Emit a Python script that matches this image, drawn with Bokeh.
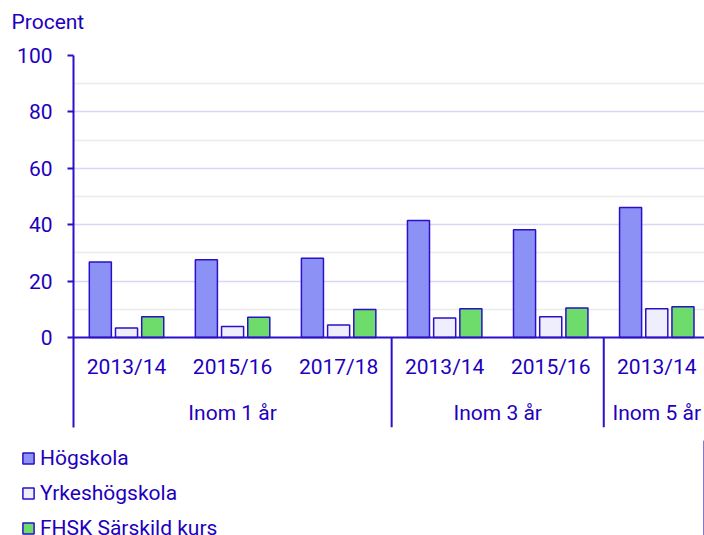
from bokeh.plotting import figure
from bokeh.layouts import column
from bokeh.models import Range1d, FixedTicker, Grid, Span, Label, Legend, LegendItem, ColumnDataSource
from bokeh.transform import dodge
from bokeh.core.properties import value
from bokeh.embed import file_html
from bokeh.resources import INLINE

# ---- data ----
groups = ["Inom 1 år", "Inom 3 år", "Inom 5 år"]
group_years = [["2013/14", "2015/16", "2017/18"], ["2013/14", "2015/16"], ["2013/14"]]
series_names = ["Högskola", "Yrkeshögskola", "FHSK Särskild kurs"]
hogskola = [26.8, 27.6, 28.1, 41.5, 38.2, 46.1]
yrkeshogskola = [3.4, 3.9, 4.4, 6.9, 7.4, 10.2]
fhsk = [7.4, 7.2, 9.9, 10.2, 10.5, 10.9]
y_ticks = [0, 20, 40, 60, 80, 100]
y_minor = [10, 30, 50, 70, 90]
unit_label = "Procent"

# ---- styling ----
TXT = "#1E00BE"
EDGE = "#2A10C8"
COLORS = ["#8C91F5", "#EEEEFD", "#6EDC6A"]
FONT = "Roboto"
FS = "21px"

years = [y for ys in group_years for y in ys]
xs = [i + 0.5 for i in range(len(years))]
counts = [len(ys) for ys in group_years]
bounds = []
acc = 0
centers = []
for c in counts:
    centers.append(acc + c / 2)
    acc += c
    bounds.append(acc)
sep_x = bounds[:-1]

# ---- header panel with unit label ----
p0 = figure(width=704, height=40, output_backend="svg", toolbar_location=None, title=None,
            x_range=Range1d(0, 704), y_range=Range1d(0, 40),
            x_axis_location=None, y_axis_location=None,
            min_border_left=0, min_border_right=0, min_border_top=0, min_border_bottom=0)
p0.frame_align = False
p0.outline_line_color = None
p0.xgrid.visible = False
p0.ygrid.visible = False
p0.add_layout(Label(x=11, y=19, text=unit_label, text_font=FONT, text_font_size=FS,
                    text_color=TXT, text_baseline="alphabetic"))

# ---- main chart ----
p = figure(width=704, height=400, output_backend="svg", toolbar_location=None,
           x_range=Range1d(0, 5.95), y_range=Range1d(-31.9, 100),
           min_border_left=73, min_border_right=0, min_border_top=15, min_border_bottom=13)
p.frame_align = False
p.outline_line_color = None
p.xaxis.visible = False
p.xgrid.visible = False
p.ygrid.visible = False

yax = p.yaxis[0]
yax.ticker = FixedTicker(ticks=y_ticks)
yax.axis_line_color = EDGE
yax.axis_line_width = 2
yax.major_tick_line_color = EDGE
yax.major_tick_line_width = 2
yax.major_tick_out = 6
yax.major_tick_in = 0
yax.minor_tick_line_color = None
yax.major_label_text_color = TXT
yax.major_label_text_font = FONT
yax.major_label_text_font_size = FS
yax.major_label_standoff = 15

p.add_layout(Grid(dimension=1, ticker=FixedTicker(ticks=y_minor), grid_line_color="#EBEBEB", grid_line_width=1.5))
p.add_layout(Grid(dimension=1, ticker=FixedTicker(ticks=y_ticks[1:]), grid_line_color="#D6D6F6", grid_line_width=1.5))

src = ColumnDataSource(dict(x=xs, year=years, h=hogskola, y=yrkeshogskola, f=fhsk))
offs = [-0.247, 0.0, 0.247]
cols = ["h", "y", "f"]
for off, col, color in zip(offs, cols, COLORS):
    p.vbar(x=dodge("x", off), top=col, bottom=0, width=0.208, source=src,
           fill_color=color, line_color=EDGE, line_width=1.5)

p.add_layout(Span(location=0, dimension="width", line_color=EDGE, line_width=2))

sep_src = ColumnDataSource(dict(x=sep_x))
p.segment(x0="x", x1="x", y0=0, y1=-31.9, source=sep_src, line_color=EDGE, line_width=2)

p.text(x="x", y=-10.6, text="year", source=src, text_font=value(FONT), text_font_size=FS,
       text_color=TXT, text_align="center", text_baseline="middle")
gsrc = ColumnDataSource(dict(x=centers, g=groups))
p.text(x="x", y=-26.6, text="g", source=gsrc, text_font=value(FONT), text_font_size=FS,
       text_color=TXT, text_align="center", text_baseline="middle")

# ---- legend panel ----
p2 = figure(width=704, height=95, output_backend="svg", toolbar_location=None, title=None,
            x_range=Range1d(0, 1), y_range=Range1d(0, 1),
            x_axis_location=None, y_axis_location=None,
            min_border_left=0, min_border_right=0, min_border_top=0, min_border_bottom=0)
p2.frame_align = False
p2.outline_line_color = None
p2.xgrid.visible = False
p2.ygrid.visible = False
hidden = ColumnDataSource(dict(x=[5.0], top=[5.0]))
leg_r = [p2.vbar(x="x", top="top", width=0.1, source=hidden, fill_color=c,
                 line_color=EDGE, line_width=1.5) for c in COLORS]
legend = Legend(items=[LegendItem(label=n, renderers=[r]) for n, r in zip(series_names, leg_r)],
                location=(21, -5), orientation="vertical", glyph_width=14, glyph_height=14,
                label_standoff=5, label_height=20, spacing=11, padding=0, margin=0,
                border_line_color=None, background_fill_alpha=0,
                label_text_font=FONT, label_text_font_size=FS, label_text_color=TXT)
p2.add_layout(legend, "center")

open("out.html", "w").write(file_html(column(p0, p, p2, spacing=0), INLINE))
